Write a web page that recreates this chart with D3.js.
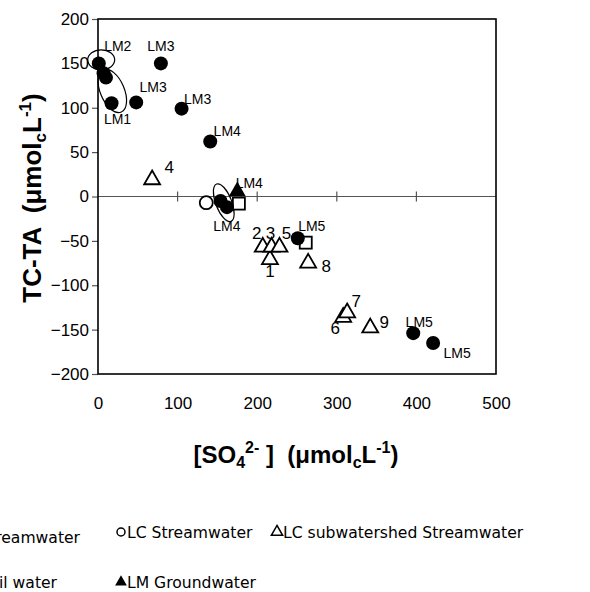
<!DOCTYPE html>
<html><head><meta charset="utf-8">
<script src="https://cdn.jsdelivr.net/npm/d3@7"></script>
<style>
body{margin:0;background:#fff;}
svg{display:block;}
.pre{white-space:pre;}
</style></head>
<body>
<svg id="c" width="590" height="592"></svg>
<script>
// ---- data ----
const lmStreamX = [1, 7, 10, 17, 48, 79, 105, 141, 154, 162, 251, 396, 421];
const lmStreamY = [150, 139, 134, 105, 106, 150, 99, 62, -5, -12, -47, -154, -165];
const lmStreamLabel = ["LM2", "", "", "LM1", "LM3", "LM3", "LM3", "LM4", "", "LM4", "LM5", "LM5", "LM5"];
const lmSoilX = [177, 261];
const lmSoilY = [-8, -52];
const lcStreamX = [136];
const lcStreamY = [-7];
const lmGroundX = [175];
const lmGroundY = [6];
const lmGroundLabel = ["LM4"];
const lcSubX = [216, 207, 218, 68, 228, 308, 313, 264, 342];
const lcSubY = [-71, -57, -57, 19, -57, -136, -131, -75, -148];
const lcSubLabel = ["1", "2", "3", "4", "5", "6", "7", "8", "9"];
const xTicks = [0, 100, 200, 300, 400, 500];
const yTicks = [-200, -150, -100, -50, 0, 50, 100, 150, 200];
const legendLabels = ["LM Streamwater", "LC Streamwater", "LC subwatershed Streamwater", "LM Soil water", "LM Groundwater"];
// ellipse annotation centres (data units)
const ellipseX = [4, 18, 158];
const ellipseY = [154, 119, -7];

// ---- styles / layout ----
const lmLabelOff = [[19,-17],[0,0],[0,0],[6,16],[17,-15],[0,-17],[16,-10],[17,-10],[0,0],[0,19],[14,-12],[6,-11],[24,10]];
const lcSubOff = [[0,12],[-6,-14],[-1,-14],[17,-12],[7,-14],[-8,11],[9,-11],[18,3],[14,-5]];
const groundOff = [[12,-8]];
const ellipseStyle = [[13.5,10,0],[12,23,-23],[8,20,-21]];

const svg = d3.select("#c");
const L = 98, R = 496, T = 19, B = 374;
const x = d3.scaleLinear().domain([0, 500]).range([L, R]);
const y = d3.scaleLinear().domain([-200, 200]).range([B, T]);
const font = "'Liberation Sans', Arial, sans-serif";

// zero line with crossing ticks
svg.append("line").attr("x1", L).attr("x2", R).attr("y1", y(0)).attr("y2", y(0))
  .attr("stroke", "#555").attr("stroke-width", 1.2);
svg.append("g").selectAll("line").data(xTicks.filter(d => d > 0 && d < 500)).join("line")
  .attr("x1", d => x(d)).attr("x2", d => x(d)).attr("y1", y(0) - 5).attr("y2", y(0) + 5)
  .attr("stroke", "#555").attr("stroke-width", 1.2);

// y axis
const ya = svg.append("g").attr("transform", `translate(${L},0)`)
  .call(d3.axisLeft(y).tickValues(yTicks).tickSize(6).tickPadding(3));
ya.select(".domain").remove();
ya.selectAll("line").attr("stroke", "#555").attr("stroke-width", 1.2);
ya.selectAll("text").attr("font-family", font).attr("font-size", 17).attr("fill", "#000");

// x axis labels
const xa = svg.append("g").attr("transform", `translate(0,${B})`)
  .call(d3.axisBottom(x).tickValues(xTicks).tickSize(0).tickPadding(23));
xa.select(".domain").remove();
xa.selectAll("text").attr("font-family", font).attr("font-size", 17).attr("fill", "#000");

// frame
svg.append("rect").attr("x", L).attr("y", T).attr("width", R - L).attr("height", B - T)
  .attr("fill", "none").attr("stroke", "#000").attr("stroke-width", 1.6);

// ellipses
svg.append("g").selectAll("ellipse").data(ellipseX).join("ellipse")
  .attr("transform", (d, i) => `translate(${x(d)},${y(ellipseY[i])}) rotate(${ellipseStyle[i][2]})`)
  .attr("rx", (d, i) => ellipseStyle[i][0]).attr("ry", (d, i) => ellipseStyle[i][1])
  .attr("fill", "none").attr("stroke", "#000").attr("stroke-width", 1.2);

const tri = d3.symbol().type(d3.symbolTriangle).size(110);
const triSmall = d3.symbol().type(d3.symbolTriangle).size(120);

// LC open circle
svg.append("g").selectAll("circle").data(lcStreamX).join("circle")
  .attr("cx", d => x(d)).attr("cy", (d, i) => y(lcStreamY[i])).attr("r", 6.5)
  .attr("fill", "#fff").attr("stroke", "#000").attr("stroke-width", 1.8);

// LC subwatershed open triangles
svg.append("g").selectAll("path").data(lcSubX).join("path")
  .attr("d", tri).attr("transform", (d, i) => `translate(${x(d)},${y(lcSubY[i])})`)
  .attr("fill", "#fff").attr("stroke", "#000").attr("stroke-width", 1.8);

// LM soil squares
svg.append("g").selectAll("rect").data(lmSoilX).join("rect")
  .attr("x", d => x(d) - 6).attr("y", (d, i) => y(lmSoilY[i]) - 6).attr("width", 12).attr("height", 12)
  .attr("fill", "#fff").attr("stroke", "#000").attr("stroke-width", 1.8);

// LM groundwater filled triangle
svg.append("g").selectAll("path").data(lmGroundX).join("path")
  .attr("d", triSmall).attr("transform", (d, i) => `translate(${x(d)},${y(lmGroundY[i])})`)
  .attr("fill", "#000");

// LM streamwater filled circles
svg.append("g").selectAll("circle").data(lmStreamX).join("circle")
  .attr("cx", d => x(d)).attr("cy", (d, i) => y(lmStreamY[i])).attr("r", 7)
  .attr("fill", "#000");

// labels
const lab = svg.append("g").attr("font-family", font).attr("text-anchor", "middle").attr("dominant-baseline", "central");
lab.selectAll("text.lm").data(lmStreamX).join("text").attr("class", "lm")
  .attr("x", (d, i) => x(d) + lmLabelOff[i][0]).attr("y", (d, i) => y(lmStreamY[i]) + lmLabelOff[i][1])
  .attr("font-size", 14).text((d, i) => lmStreamLabel[i]);
lab.selectAll("text.gw").data(lmGroundX).join("text").attr("class", "gw")
  .attr("x", (d, i) => x(d) + groundOff[i][0]).attr("y", (d, i) => y(lmGroundY[i]) + groundOff[i][1])
  .attr("font-size", 14).text((d, i) => lmGroundLabel[i]);
lab.selectAll("text.lc").data(lcSubX).join("text").attr("class", "lc")
  .attr("x", (d, i) => x(d) + lcSubOff[i][0]).attr("y", (d, i) => y(lcSubY[i]) + lcSubOff[i][1])
  .attr("font-size", 17).text((d, i) => lcSubLabel[i]);

// axis titles
const yt = svg.append("text").attr("class", "pre").attr("transform", "translate(41,198) rotate(-90)")
  .attr("text-anchor", "middle").attr("font-family", font).attr("font-weight", "bold").attr("font-size", 26);
yt.append("tspan").text("TC-TA  (μmol");
yt.append("tspan").attr("font-size", 17).attr("dy", 5).text("c");
yt.append("tspan").attr("dy", -5).text("L");
yt.append("tspan").attr("font-size", 17).attr("dy", -10).text("-1");
yt.append("tspan").attr("dy", 10).text(")");

const xt = svg.append("text").attr("class", "pre").attr("x", 296).attr("y", 463)
  .attr("text-anchor", "middle").attr("font-family", font).attr("font-weight", "bold").attr("font-size", 24);
xt.append("tspan").text("[SO");
xt.append("tspan").attr("font-size", 16).attr("dy", 5).text("4");
xt.append("tspan").attr("font-size", 16).attr("dy", -15).text("2-");
xt.append("tspan").attr("dy", 10).text(" ]  (μmol");
xt.append("tspan").attr("font-size", 16).attr("dy", 5).text("c");
xt.append("tspan").attr("dy", -5).text("L");
xt.append("tspan").attr("font-size", 16).attr("dy", -10).text("-1");
xt.append("tspan").attr("dy", 10).text(")");

// legend
const lfont = "'DejaVu Sans', sans-serif";
const leg = svg.append("g").attr("font-family", lfont).attr("font-size", 15.6);
// cut-off items (end anchored)
leg.append("text").attr("x", 80).attr("y", 543).attr("text-anchor", "end").text("● " + legendLabels[0]);
leg.append("text").attr("x", 57).attr("y", 588).attr("text-anchor", "end").text("□ " + legendLabels[3]);
// LC stream
leg.append("circle").attr("cx", 121).attr("cy", 532).attr("r", 4).attr("fill", "none").attr("stroke", "#000").attr("stroke-width", 1.5);
leg.append("text").attr("x", 127).attr("y", 538).text(legendLabels[1]);
leg.append("path").attr("d", d3.symbol().type(d3.symbolTriangle).size(55)).attr("transform", "translate(277,532)")
  .attr("fill", "none").attr("stroke", "#000").attr("stroke-width", 1.5);
leg.append("text").attr("x", 283).attr("y", 538).text(legendLabels[2]);
leg.append("path").attr("d", d3.symbol().type(d3.symbolTriangle).size(60)).attr("transform", "translate(121,582)")
  .attr("fill", "#000");
leg.append("text").attr("x", 127).attr("y", 588).text(legendLabels[4]);
</script>
</body></html>
